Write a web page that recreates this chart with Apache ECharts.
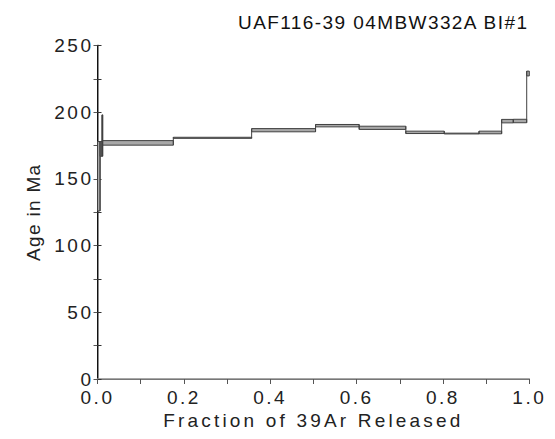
<!DOCTYPE html>
<html><head><meta charset="utf-8">
<script src="https://cdn.jsdelivr.net/npm/echarts@6/dist/echarts.min.js"></script>
<style>html,body{margin:0;padding:0;background:#fff}#c{width:555px;height:439px}</style>
</head><body><div id="c"></div>
<script>
const titleText = 'UAF116-39 04MBW332A BI#1';
const xName = 'Fraction of 39Ar Released';
const yName = 'Age in Ma';
// cumulative fraction of 39Ar at the end of each step
const stepEnds = [0.006, 0.0105, 0.012, 0.1756, 0.357, 0.505, 0.606, 0.714, 0.803, 0.8835, 0.936, 0.963, 0.994, 1.0];
// apparent age of each step (Ma)
const ages = [152, 172.5, 182.5, 177.0, 180.8, 186.5, 189.9, 188.3, 184.9, 184.0, 184.8, 193.3, 193.4, 229.0];
// error half-height of each step (Ma)
const errs = [26, 5.5, 15.5, 1.7, 0.4, 1.2, 0.9, 1.2, 0.9, 0.3, 1.0, 1.3, 1.3, 1.8];
const xTicks = [0, 0.2, 0.4, 0.6, 0.8, 1.0];
const yTicks = [0, 50, 100, 150, 200, 250];

const data = [];
let prevLo = null, prevHi = null, start = 0;
for (let i = 0; i < ages.length; i++) {
  const lo = ages[i] - errs[i], hi = ages[i] + errs[i];
  data.push([start, stepEnds[i], lo, hi,
    prevLo === null ? lo : Math.min(lo, prevLo),
    prevHi === null ? hi : Math.max(hi, prevHi)]);
  prevLo = lo; prevHi = hi; start = stepEnds[i];
}

function renderItem(params, api) {
  const p0 = api.coord([api.value(0), api.value(3)]);
  const p1 = api.coord([api.value(1), api.value(2)]);
  const c0 = api.coord([api.value(0), api.value(4)]);
  const c1 = api.coord([api.value(0), api.value(5)]);
  return {type: 'group', children: [
    {type: 'rect', shape: {x: p0[0], y: p0[1], width: p1[0] - p0[0], height: Math.max(p1[1] - p0[1], 0.8)},
     style: {fill: '#a8a8a8', stroke: '#404040', lineWidth: 1}},
    {type: 'line', shape: {x1: c0[0], y1: c0[1], x2: c1[0], y2: c1[1]},
     style: {stroke: '#404040', lineWidth: 1}}
  ]};
}

const FONT = 'Liberation Sans, Arial, sans-serif';
const chart = echarts.init(document.getElementById('c'), null, {renderer: 'svg'});
chart.setOption({
  animation: false,
  backgroundColor: '#fff',
  title: {text: titleText, left: 233, top: 8,
    textStyle: {fontSize: 19, fontWeight: 'normal', color: '#111', fontFamily: FONT}},
  grid: {left: 97.5, right: 25.7, top: 45.5, bottom: 60},
  xAxis: [{
    type: 'value', min: 0, max: 1, interval: 0.1, position: 'bottom',
    axisLine: {show: true, lineStyle: {color: '#8a8a8a', width: 1.5}},
    axisTick: {show: true, length: 5, lineStyle: {color: '#555'}},
    axisLabel: {margin: 12, fontSize: 19, lineHeight: 12, color: '#222', fontFamily: FONT,
      formatter: v => xTicks.some(t => Math.abs(t - v) < 1e-6) ? v.toFixed(1) : ''},
    splitLine: {show: false},
    name: xName, nameLocation: 'middle', nameGap: 23,
    nameTextStyle: {fontSize: 19, color: '#222', fontFamily: FONT}
  }, {
    type: 'value', min: 0, max: 1, position: 'top',
    axisLine: {show: true, lineStyle: {color: '#777', width: 1.2}},
    axisTick: {show: false}, axisLabel: {show: false}, splitLine: {show: false}
  }],
  yAxis: [{
    type: 'value', min: 0, max: 250, interval: 25, position: 'left',
    axisLine: {show: true, lineStyle: {color: '#8c8c8c', width: 2}},
    axisTick: {show: true, length: 4, lineStyle: {color: '#555'}},
    axisLabel: {margin: 4, fontSize: 19, lineHeight: 12, color: '#222', fontFamily: FONT,
      formatter: v => yTicks.indexOf(v) >= 0 ? String(v) : ''},
    splitLine: {show: false},
    name: yName, nameLocation: 'middle', nameGap: 55, nameRotate: 90,
    nameTextStyle: {fontSize: 19, color: '#222', fontFamily: FONT}
  }, {
    type: 'value', min: 0, max: 250, interval: 25, position: 'right',
    axisLine: {show: true, lineStyle: {color: '#111', width: 1}},
    axisTick: {show: true, length: 4, lineStyle: {color: '#333'}},
    axisLabel: {show: false}, splitLine: {show: false}
  }],
  series: [{
    type: 'custom', renderItem: renderItem, data: data,
    encode: {x: [0, 1], y: [2, 3]}, clip: true, silent: true
  }]
});

function spaceText() {
  document.querySelectorAll('#c svg text').forEach(t => {
    const s = t.textContent;
    let target = null;
    if (s === titleText) target = 289;
    else if (s === xName) target = 297;
    else if (s === yName) target = 96;
    if (target) {
      t.removeAttribute('letter-spacing');
      const len = t.getComputedTextLength();
      const sp = Math.max(0, (target - len) / (s.length - 1));
      t.setAttribute('letter-spacing', sp.toFixed(2));
    } else if (/^[0-9.]+$/.test(s)) {
      t.setAttribute('letter-spacing', '2.5');
    }
  });
}
chart.getZr().flush && chart.getZr().flush();
spaceText();
setTimeout(spaceText, 50);
</script>
</body></html>
